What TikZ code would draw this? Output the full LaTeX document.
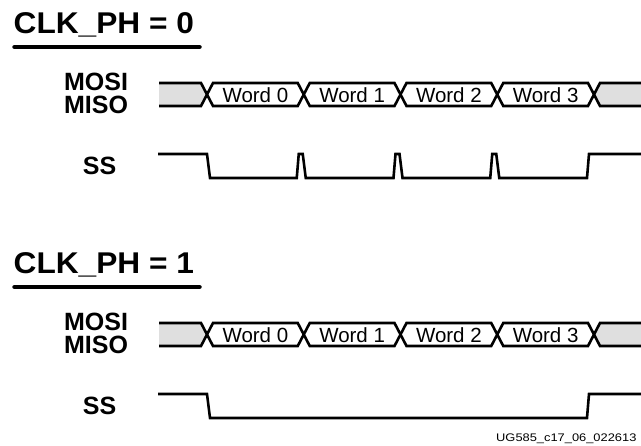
\documentclass[tikz,border=0pt]{standalone}
\usepackage{fontspec}
\setmainfont{Liberation Sans}
\usepackage{graphicx}

\begin{document}
\begin{tikzpicture}[x=1pt, y=-1pt,
    wave/.style={line width=2.6pt},
    busfill/.style={fill=gray!25},
    title/.style={font=\fontsize{30}{30}\selectfont\bfseries, anchor=base west, inner sep=0pt},
    signame/.style={font=\fontsize{25}{25}\selectfont\bfseries, anchor=base, inner sep=0pt},
    word/.style={font=\fontsize{20.5}{20.5}\selectfont, inner sep=0pt}]
  \useasboundingbox (0,0) rectangle (641,446);
  \foreach \ph/\dy in {0/0, 1/240} {
    \begin{scope}[yshift=-\dy pt]
      % heading
      \node[title] (title\ph) at (13.5,33.3) {\scalebox{1.055}[1]{CLK\_PH = \ph}};
      \draw[line width=4.5pt, line cap=round] (14.5,47) -- (199.5,47);
      \node[signame] (mosi\ph) at (96,91) {MOSI};
      \node[signame] (miso\ph) at (96,114) {MISO};
      \node[signame] (ss\ph) at (99.5,175) {SS};
      % data bus
      \fill[busfill] (159,83) -- (201,83) -- (207,94.5) -- (201,106) -- (159,106) -- cycle;
      \draw[wave] (159,83) -- (201,83) -- (207,94.5) -- (201,106) -- (159,106);
      \fill[busfill] (645,83) -- (600,83) -- (594,94.5) -- (600,106) -- (645,106) -- cycle;
      \draw[wave] (645,83) -- (600,83) -- (594,94.5) -- (600,106) -- (645,106);
      \foreach \n in {0,...,3} {
        \pgfmathsetmacro\a{207+96.75*\n}
        \pgfmathsetmacro\b{\a+96.75}
        \draw[wave] (\a,94.5) -- (\a+6,83) -- (\b-6,83) -- (\b,94.5) -- (\b-6,106) -- (\a+6,106) -- cycle;
        \node[word] (w\ph\n) at ({(\a+\b)/2},95.5) {Word \n};
      }
      % slave select
      \ifnum\ph=0
        \draw[wave] (158,154) -- (207,154) -- (210,178)
          \foreach \c in {303.75,400.5,497.25} {
            -- (\c-7,178) -- (\c-5,154) -- (\c-1,154) -- (\c+2,178)
          } -- (587,178) -- (589,154) -- (645,154);
      \else
        \draw[wave] (158,154) -- (207,154) -- (210,178) -- (587,178) -- (589,154) -- (645,154);
      \fi
    \end{scope}
  }
  \node[anchor=base west, inner sep=0pt, font=\fontsize{11}{11}\selectfont] (figid) at (496,442)
    {\scalebox{1.17}[1]{UG585\_c17\_06\_022613}};
\end{tikzpicture}
\end{document}
